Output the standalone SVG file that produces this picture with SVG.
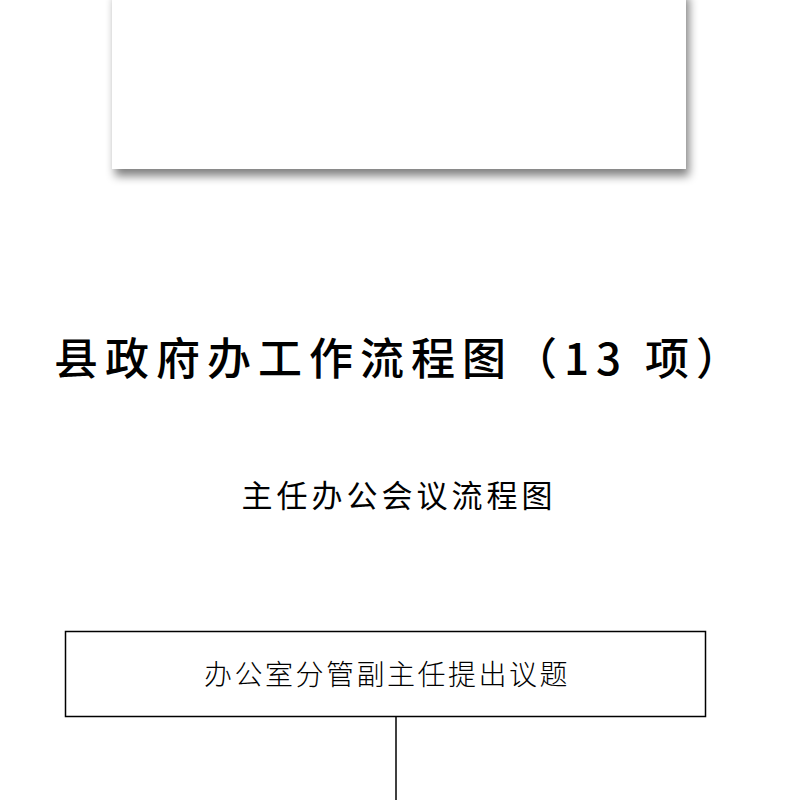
<svg xmlns="http://www.w3.org/2000/svg" width="800" height="800" viewBox="0 0 800 800">
<defs>
<filter id="sh" x="-10%" y="-10%" width="125%" height="135%">
<feGaussianBlur in="SourceAlpha" stdDeviation="5"/>
<feOffset dx="3" dy="7" result="b"/>
<feComponentTransfer><feFuncA type="linear" slope="0.5"/></feComponentTransfer>
<feMerge><feMergeNode/><feMergeNode in="SourceGraphic"/></feMerge>
</filter>
<style>
.cjk{font-family:"Noto Sans CJK SC","Noto Sans",sans-serif;fill:#000}
.box{fill:#fff;stroke:#000;stroke-width:1.5}
.conn{stroke:#000;stroke-width:1.5;fill:none}
</style>
</defs>
<rect width="800" height="800" fill="#fff"/>
<g id="card"><rect x="112" y="-10" width="574" height="179" fill="#fff" filter="url(#sh)"/></g>
<g id="title"><text class="cjk" x="54" y="375" font-size="44" font-weight="500" letter-spacing="7">县政府办工作流程图（13 项）</text></g>
<g id="subtitle"><text class="cjk" x="399" y="507" font-size="31" text-anchor="middle" letter-spacing="4">主任办公会议流程图</text></g>
<g id="node1">
<rect class="box" x="65.5" y="631.5" width="640" height="85"/>
<text class="cjk" x="387" y="685" font-size="28" font-weight="300" text-anchor="middle" letter-spacing="2.5">办公室分管副主任提出议题</text>
</g>
<g id="connectors"><line class="conn" x1="396" y1="717" x2="396" y2="800"/></g>
</svg>
